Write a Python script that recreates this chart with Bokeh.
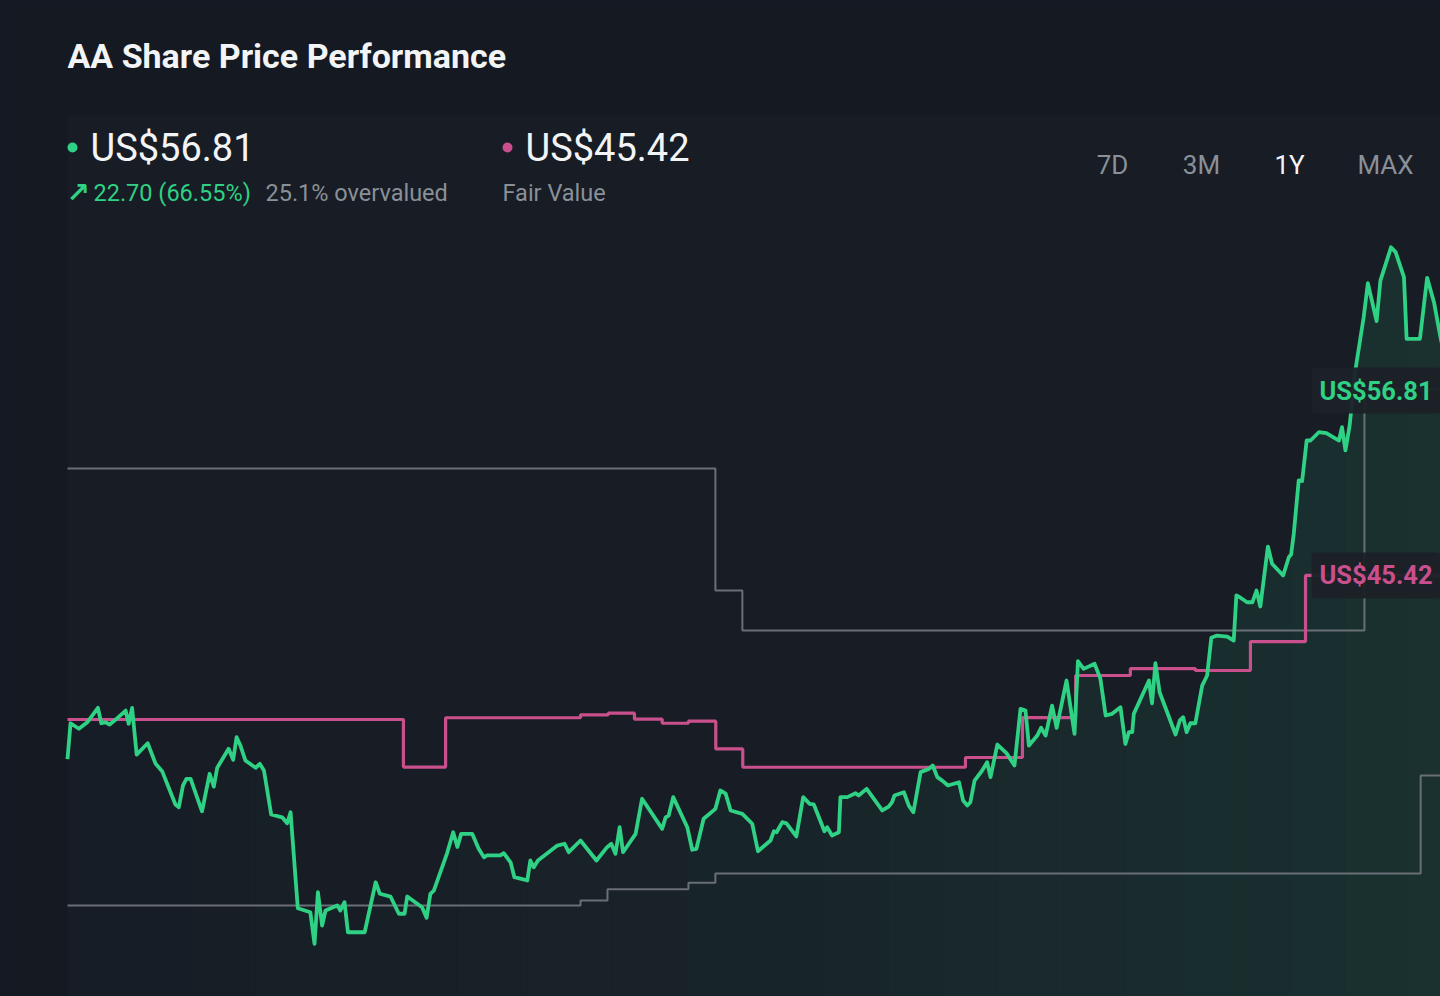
from bokeh.plotting import figure
from bokeh.models import Range1d, Label, BoxAnnotation
from bokeh.embed import file_html
from bokeh.resources import INLINE

# ---------------- data ----------------
ticker = "AA"
current_price = 56.81
fair_value = 45.42
change_abs = 22.70
change_pct = 66.55
overvalued_pct = 25.1
timeframes = ["7D", "3M", "1Y", "MAX"]
active_tf = "1Y"

# share price (days since start of the 1Y window, USD)
price_days = [0, 0.8, 3.0, 5.2, 8.0, 8.9, 10.0, 11.1, 12.6, 15.3,
              16.1, 17.0, 18.2, 21.1, 23.2, 24.9, 28.4, 29.3, 30.4, 31.3,
              32.4, 35.4, 37.4, 38.5, 39.4, 42.4, 43.6, 44.5, 45.5, 46.8,
              49.5, 50.6, 51.7, 53.6, 56.5, 57.8, 58.7, 60.6, 63.9, 65.0,
              65.9, 67.0, 67.9, 71.0, 71.8, 72.9, 73.8, 78.2, 81.1, 82.2,
              85.0, 87.2, 88.7, 89.4, 93.3, 94.5, 95.5, 96.4, 99.9, 101.5,
              102.6, 103.6, 106.5, 108.2, 109.6, 110.4, 113.9, 114.8, 116.6, 117.6,
              121.0, 121.8, 122.7, 123.8, 128.9, 130.8, 131.9, 135.0, 139.2, 142.0,
              143.1, 144.2, 145.3, 146.2, 149.5, 151.2, 156.5, 157.4, 158.2, 159.4,
              163.1, 164.4, 165.5, 167.4, 170.5, 171.8, 173.2, 174.5, 177.6, 180.2,
              181.7, 185.0, 185.9, 186.6, 188.1, 189.2, 191.8, 193.6, 195.3, 196.4,
              199.2, 199.9, 201.2, 203.0, 203.4, 205.2, 207.4, 208.2, 210.3, 214.4,
              216.1, 217.0, 217.6, 220.1, 221.4, 222.6, 224.5, 226.7, 227.7, 228.9,
              230.2, 231.7, 234.6, 235.7, 236.8, 237.6, 238.7, 240.7, 242.0, 242.9,
              244.7, 247.1, 249.2, 250.8, 252.1, 253.0, 255.2, 256.2, 257.4, 259.1,
              260.3, 262.9, 265.0, 265.9, 267.4, 270.3, 271.8, 273.2, 274.9, 277.1,
              278.4, 279.3, 280.2, 280.6, 284.6, 285.4, 286.3, 287.4, 291.6, 292.7,
              293.6, 294.5, 295.5, 296.8, 298.6, 299.9, 301.0, 302.5, 305.2, 306.9,
              307.6, 308.5, 310.4, 311.8, 312.9, 313.9, 315.9, 317.0, 319.9, 321.4,
              322.0, 322.7, 324.0, 324.9, 326.1, 327.1, 329.3, 331.3, 334.6, 335.4,
              336.3, 337.4, 338.9, 341.1, 342.2, 344.5, 345.5, 348.3, 349.5, 351.7,
              352.4, 355.9, 357.8, 359.6, 361.3, 363.0, 365.0]
price_vals = [34.11, 36.32, 35.98, 36.38, 37.27, 36.32, 36.38, 36.24, 36.53, 37.10,
              36.29, 37.27, 34.39, 35.09, 33.82, 33.37, 31.32, 31.15, 32.49, 32.90,
              32.90, 30.90, 33.21, 32.42, 33.58, 34.75, 34.07, 35.46, 34.95, 34.03,
              33.58, 33.82, 33.41, 30.70, 30.53, 30.16, 30.84, 24.93, 24.68, 22.74,
              25.92, 23.86, 24.79, 25.10, 24.79, 25.30, 23.45, 23.45, 26.53, 25.82,
              25.65, 24.59, 24.59, 25.65, 24.99, 24.34, 25.82, 26.02, 28.33, 29.61,
              28.70, 29.51, 29.51, 28.59, 28.07, 28.18, 28.18, 28.32, 27.76, 26.84,
              26.64, 27.87, 27.45, 27.87, 28.79, 28.90, 28.38, 29.10, 27.87, 28.69,
              28.90, 28.28, 29.92, 28.38, 29.51, 31.67, 29.82, 30.53, 30.64, 31.77,
              29.92, 28.53, 28.59, 30.44, 31.05, 32.18, 31.98, 30.95, 30.74, 30.13,
              28.44, 29.10, 29.67, 29.61, 30.23, 30.16, 29.35, 31.77, 31.36, 31.32,
              29.67, 29.92, 29.41, 29.61, 31.77, 31.77, 32.01, 31.87, 32.28, 30.95,
              31.19, 31.46, 31.87, 32.07, 31.25, 30.84, 33.31, 33.51, 33.72, 33.00,
              32.79, 32.49, 32.69, 31.56, 31.25, 31.46, 32.79, 33.41, 33.92, 33.00,
              35.01, 34.48, 33.72, 37.21, 37.10, 34.95, 35.56, 36.04, 35.56, 37.41,
              36.04, 38.95, 35.67, 40.14, 39.67, 39.98, 39.08, 36.80, 36.90, 37.31,
              35.05, 35.77, 35.77, 36.90, 38.95, 37.55, 40.02, 38.23, 35.63, 36.49,
              36.69, 35.77, 36.32, 36.32, 38.64, 39.26, 41.58, 41.72, 41.66, 41.41,
              44.19, 44.08, 43.77, 43.77, 44.49, 43.51, 47.20, 46.14, 45.42, 46.54,
              46.71, 47.99, 51.27, 51.23, 53.73, 53.73, 54.24, 54.18, 53.73, 54.55,
              53.12, 54.65, 58.04, 61.32, 63.42, 61.08, 63.58, 65.63, 65.33, 63.79,
              59.99, 59.99, 63.75, 62.25, 60.09, 58.40, 56.81]

# fair value estimate (step series)
fv_days = [0, 88.4, 99.5, 135.0, 142.3, 149.2, 156.5, 163.4, 170.6, 177.7,
           236.3, 251.3, 265.3, 279.7, 296.8, 311.3, 325.8, 365.0]
fv_vals = [36.55, 33.62, 36.66, 36.84, 36.94, 36.57, 36.32, 36.45, 34.74, 33.61,
           34.21, 36.67, 39.26, 39.69, 39.57, 41.35, 45.42, 45.42]

# analyst target range (upper / lower step series)
hi_days = [0, 170.5, 177.6, 341.3, 365.0]
hi_vals = [52.00, 44.50, 42.03, 56.90, 56.90]
lo_days = [0, 135.0, 142.1, 163.4, 170.5, 356.1, 365.0]
lo_vals = [25.10, 25.40, 26.10, 26.50, 27.07, 33.10, 33.10]

n = min(len(price_days), len(price_vals))
price_days = price_days[:n]
price_vals = price_vals[:n]

# ---------------- layout / style ----------------
W, H = 1440, 996
PAGE = 0              # canvas offset on the page
ORIGIN_PX = 67        # page x of day 0
PX_PER_DAY = 3.8
REF_PY = 390          # page y of the current price
PX_PER_USD = 16.24

BG = "#141922"
PANEL = "#171c25"
GREEN = "#2fd184"
PINK = "#c9508d"
GREY_LINE = "#696e77"
GREY_TEXT = "#8a9098"
WHITE = "#f3f4f6"
FONT = "Roboto"


def dx(page_x):
    return (page_x - ORIGIN_PX) / PX_PER_DAY


def dy(page_y):
    return current_price - (page_y - REF_PY) / PX_PER_USD


p = figure(width=W, height=H,
           x_range=Range1d(dx(PAGE), dx(PAGE + W)),
           y_range=Range1d(dy(PAGE + H), dy(PAGE)),
           min_border=0, toolbar_location=None, output_backend="svg",
           x_axis_location=None, y_axis_location=None,
           background_fill_color=BG, border_fill_color=BG,
           outline_line_color=None)
p.grid.visible = False

# chart panel (slightly lighter)
p.add_layout(BoxAnnotation(left=0, top=dy(115), fill_color=PANEL, fill_alpha=1.0,
                           line_color=None, level="underlay"))

# area under price line, fading in from left to right
bottom = dy(PAGE + H)
chunks = 24
k = max(1, (n - 1) // chunks + 1)
for i in range(0, n - 1, k):
    j = min(i + k, n - 1) + 1
    xs = price_days[i:j]
    ys = price_vals[i:j]
    frac = (xs[0] + xs[-1]) / 2 / price_days[-1]
    p.varea(x=xs, y1=[bottom] * len(xs), y2=ys, fill_color=GREEN,
            fill_alpha=0.012 + 0.11 * frac ** 1.6)

# analyst range
p.step(x=hi_days, y=hi_vals, mode="after", line_color=GREY_LINE, line_width=2)
p.step(x=lo_days, y=lo_vals, mode="after", line_color=GREY_LINE, line_width=2)

# fair value
p.step(x=fv_days, y=fv_vals, mode="after", line_color=PINK, line_width=3.2)

# share price
p.line(x=price_days, y=price_vals, line_color=GREEN, line_width=3.8,
       line_join="round")


def add_text(px, py, text, size, color, style="normal", align="left",
             baseline="middle", font=FONT):
    p.add_layout(Label(x=dx(px), y=dy(py), text=text, text_font=font,
                       text_font_size=f"{size}px", text_color=color,
                       text_font_style=style, text_align=align,
                       text_baseline=baseline))


# header (y = visual centre line of each text)
add_text(67, 55, f"{ticker} Share Price Performance", 34, WHITE, "bold")

p.scatter(x=[dx(72), dx(507)], y=[dy(147), dy(147)], size=10,
          color=[GREEN, PINK], line_color=None)
add_text(90, 147, f"US${current_price:.2f}", 38, WHITE)
add_text(525, 147, f"US${fair_value:.2f}", 38, WHITE)
add_text(66, 192, "\u2197", 28, GREEN, "bold", font="DejaVu Sans")
add_text(93, 192, f"{change_abs:.2f} ({change_pct:.2f}%)", 23.5, GREEN)
add_text(265, 192, f"{overvalued_pct}% overvalued", 23.5, GREY_TEXT)
add_text(502, 192, "Fair Value", 23.5, GREY_TEXT)

tab_centers = [1112, 1201, 1289, 1385]
for tf, cx in zip(timeframes, tab_centers):
    add_text(cx, 164, tf, 26, WHITE if tf == active_tf else GREY_TEXT,
             align="center")

# value tags at the right edge
for val, col in [(current_price, GREEN), (fair_value, PINK)]:
    p.add_layout(Label(x=dx(1311), y=val, text=f"US${val:.2f}", text_font=FONT,
                       text_font_size="25.5px", text_font_style="bold",
                       text_color=col, text_baseline="middle",
                       background_fill_color="#1c2128", background_fill_alpha=0.95,
                       padding=8, border_radius=4))

html = file_html(p, INLINE, title=f"{ticker} Share Price Performance")
html = html.replace("<head>", "<head><style>html,body{background:%s;}</style>" % BG, 1)
open("out.html", "w").write(html)
